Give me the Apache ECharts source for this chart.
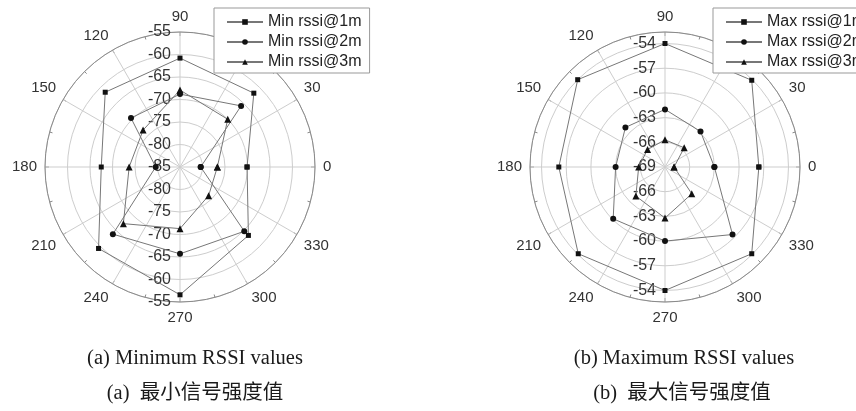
<!DOCTYPE html>
<html>
<head>
<meta charset="utf-8">
<script src="https://cdn.jsdelivr.net/npm/echarts@6/dist/echarts.min.js"></script>
<style>
html,body{margin:0;padding:0;background:#fff;}
#c{width:856px;height:411px;}
</style>
</head>
<body>
<div id="c"></div>
<script>
// ---- data ----
const angles = [0, 45, 90, 135, 180, 225, 270, 315];

const minNames = ['Min rssi@1m', 'Min rssi@2m', 'Min rssi@3m'];
const min1m = [-70.1, -61.8, -60.8, -61.5, -67.5, -59.4, -56.6, -63.5];
const min2m = [-80.4, -65.8, -68.8, -69.6, -79.6, -63.9, -65.7, -64.8];
const min3m = [-76.7, -70.0, -67.9, -73.4, -73.7, -67.2, -71.3, -76.0];

const maxNames = ['Max rssi@1m', 'Max rssi@2m', 'Max rssi@3m'];
const max1m = [-57.6, -54.1, -54.0, -54.0, -56.1, -54.1, -54.0, -54.1];
const max2m = [-63.0, -62.9, -62.0, -62.2, -63.0, -60.1, -60.0, -57.4];
const max3m = [-67.9, -65.7, -65.7, -66.0, -65.8, -64.0, -62.8, -64.4];

const minRadial = { min: -85, max: -55, interval: 5 };
const maxRadial = { min: -69, max: -52.6, interval: 3 };
const angleRange = { min: 0, max: 360, interval: 30 };

const capMinEn = '(a) Minimum RSSI values';
const capMinZh = '(a)  最小信号强度值';
const capMaxEn = '(b) Maximum RSSI values';
const capMaxZh = '(b)  最大信号强度值';

// ---- styling ----
const SANS = 'Liberation Sans, Arial, sans-serif';
const SERIF = '"Liberation Serif", "Times New Roman", "Noto Sans CJK SC", serif';
const GRID = '#cdcdcd';
const OUTER = '#8a8a8a';
const LINE = '#777777';
const MARK = '#111111';
const symbols = [['rect', 5], ['circle', 6], ['triangle', 7]];

const centers = [[180, 167], [665, 167]];
const R = 135;

function series(name, vals, polarIndex, k) {
  const data = angles.map((a, i) => [vals[i], a]);
  data.push([vals[0], 360]);
  return {
    type: 'line', name, coordinateSystem: 'polar', polarIndex,
    data, symbol: symbols[k][0], symbolSize: symbols[k][1],
    showSymbol: true,
    lineStyle: { color: LINE, width: 1 },
    itemStyle: { color: MARK },
    z: 3
  };
}

const polar = [];
const angleAxis = [];
const radiusAxis = [];

function addChart(ci, rad) {
  const base = polar.length;
  for (let k = 0; k < 3; k++) polar.push({ center: centers[ci], radius: R });
  // data polar
  angleAxis.push({
    polarIndex: base, type: 'value', min: angleRange.min, max: angleRange.max, interval: angleRange.interval,
    startAngle: 0, clockwise: false,
    axisLine: { show: true, lineStyle: { color: OUTER, width: 1 } },
    axisTick: { show: true, inside: true, length: 4, lineStyle: { color: OUTER } },
    minorTick: { show: true, splitNumber: 2, length: 3, lineStyle: { color: OUTER } },
    splitLine: { show: true, lineStyle: { color: GRID, width: 1 } },
    axisLabel: { show: true, fontSize: 15, color: '#333', margin: 8, fontFamily: SANS }
  });
  radiusAxis.push({
    polarIndex: base, type: 'value', min: rad.min, max: rad.max, interval: rad.interval,
    axisLine: { show: false }, axisTick: { show: false }, axisLabel: { show: false },
    splitLine: { show: true, lineStyle: { color: GRID, width: 1 } }
  });
  // upward labels
  angleAxis.push({ polarIndex: base + 1, type: 'value', min: 0, max: 360, startAngle: 90, show: false });
  radiusAxis.push({
    polarIndex: base + 1, type: 'value', min: rad.min, max: rad.max, interval: rad.interval,
    axisLine: { show: false }, axisTick: { show: false }, splitLine: { show: false },
    axisLabel: { show: true, fontSize: 16, color: '#333', margin: 9, fontFamily: SANS,
      showMinLabel: true, showMaxLabel: rad.max % rad.interval === 0 }
  });
  // downward labels
  angleAxis.push({ polarIndex: base + 2, type: 'value', min: 0, max: 360, startAngle: 270, show: false });
  radiusAxis.push({
    polarIndex: base + 2, type: 'value', min: rad.min, max: rad.max, interval: rad.interval,
    axisLine: { show: false }, axisTick: { show: false }, splitLine: { show: false },
    axisLabel: { show: true, fontSize: 16, color: '#333', margin: -9, align: 'right', fontFamily: SANS,
      showMinLabel: false, showMaxLabel: rad.max % rad.interval === 0 }
  });
  return base;
}

const pL = addChart(0, minRadial);
const pR = addChart(1, maxRadial);

const allSeries = [
  series(minNames[0], min1m, pL, 0),
  series(minNames[1], min2m, pL, 1),
  series(minNames[2], min3m, pL, 2),
  series(maxNames[0], max1m, pR, 0),
  series(maxNames[1], max2m, pR, 1),
  series(maxNames[2], max3m, pR, 2)
];

function legend(names, left) {
  return {
    data: names, left, top: 8, orient: 'vertical',
    itemWidth: 36, itemHeight: 7, itemGap: 4,
    padding: [6, 8, 3, 12],
    backgroundColor: '#fff', borderColor: '#999', borderWidth: 1, borderRadius: 0,
    selectedMode: false,
    textStyle: { fontSize: 16, color: '#222', fontFamily: SANS },
    z: 10
  };
}

function caption(text, x, y) {
  return { type: 'text', x, y, z: 10,
    style: { text, fontSize: 20.5, fontFamily: SERIF, fill: '#1a1a1a', align: 'center', verticalAlign: 'middle' } };
}

const chart = echarts.init(document.getElementById('c'), null, { renderer: 'canvas' });
chart.setOption({
  animation: false,
  backgroundColor: '#fff',
  polar, angleAxis, radiusAxis,
  legend: [legend(minNames, 214), legend(maxNames, 713)],
  series: allSeries,
  graphic: [
    caption(capMinEn, 195, 359),
    caption(capMinZh, 195, 394),
    caption(capMaxEn, 684, 359),
    caption(capMaxZh, 682, 394)
  ]
});
</script>
</body>
</html>
